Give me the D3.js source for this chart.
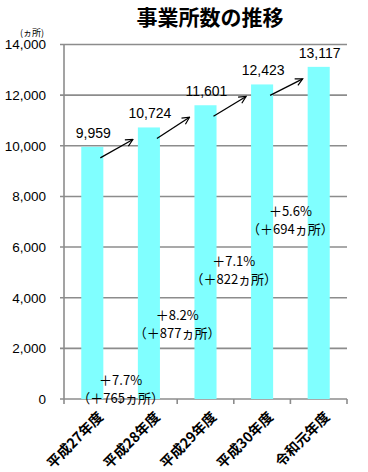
<!DOCTYPE html>
<html>
<head>
<meta charset="utf-8">
<script src="https://cdn.jsdelivr.net/npm/d3@7"></script>
<style>
  body { margin: 0; background: #fff; }
  text { font-family: "Noto Sans CJK JP", "Noto Sans", sans-serif; fill: #000; }
  .num { font-family: "Liberation Sans", "Noto Sans", sans-serif; }
</style>
</head>
<body>
<div id="chart"></div>
<script>
// data
var years = ["平成27年度", "平成28年度", "平成29年度", "平成30年度", "令和元年度"];
var counts = [9959, 10724, 11601, 12423, 13117];
var growthPct = ["＋7.7%", "＋8.2%", "＋7.1%", "＋5.6%"];
var growthNum = ["（＋765ヵ所）", "（＋877ヵ所）", "（＋822ヵ所）", "（＋694ヵ所）"];
// vertical level (in data units) where each growth note sits
var growthLevel = [750, 3300, 5450, 7430];
var yTicks = [0, 2000, 4000, 6000, 8000, 10000, 12000, 14000];

var svgWidth = 368;
var svgHeight = 472;
var margin = { top: 44.5, right: 21, bottom: 73, left: 64 };
var width = svgWidth - margin.left - margin.right;
var height = svgHeight - margin.top - margin.bottom;

var svg = d3.select("#chart").append("svg")
  .attr("width", svgWidth)
  .attr("height", svgHeight);

var defs = svg.append("defs");
defs.append("marker")
  .attr("id", "arrow")
  .attr("viewBox", "0 0 10 10")
  .attr("refX", 9)
  .attr("refY", 5)
  .attr("markerWidth", 9)
  .attr("markerHeight", 9)
  .attr("markerUnits", "userSpaceOnUse")
  .attr("orient", "auto")
  .append("path")
  .attr("d", "M1,1 L9,5 L1,9")
  .attr("fill", "none")
  .attr("stroke", "#000")
  .attr("stroke-width", 1.3);

// title
svg.append("text")
  .attr("x", 210)
  .attr("y", 25)
  .attr("text-anchor", "middle")
  .style("font-size", "21px")
  .style("font-weight", "bold")
  .text("事業所数の推移");

svg.append("text")
  .attr("x", 32)
  .attr("y", 36)
  .attr("text-anchor", "middle")
  .style("font-size", "9px")
  .text("(ヵ所)");

var chartGroup = svg.append("g")
  .attr("transform", `translate(${margin.left}, ${margin.top})`);

var xScale = d3.scaleBand()
  .domain(years)
  .range([0, width])
  .paddingInner(0.61)
  .paddingOuter(0.305);

var yScale = d3.scaleLinear()
  .domain([0, 14000])
  .range([height, 0]);

// gridlines
chartGroup.append("g")
  .selectAll("line")
  .data(yTicks)
  .enter()
  .append("line")
  .attr("x1", -4)
  .attr("x2", width)
  .attr("y1", d => yScale(d))
  .attr("y2", d => yScale(d))
  .attr("stroke", "#8c8c8c")
  .attr("stroke-width", 1.6);

// y axis line
chartGroup.append("line")
  .attr("x1", 0).attr("x2", 0)
  .attr("y1", 0).attr("y2", height)
  .attr("stroke", "#8c8c8c")
  .attr("stroke-width", 1.6);

// y labels
chartGroup.append("g")
  .selectAll("text")
  .data(yTicks)
  .enter()
  .append("text")
  .classed("num", true)
  .attr("x", -18)
  .attr("y", d => yScale(d))
  .attr("dy", "0.36em")
  .attr("text-anchor", "end")
  .style("font-size", "13.5px")
  .text(d => d3.format(",")(d));

// x axis tick marks at category boundaries
var step = xScale.step();
chartGroup.append("g")
  .selectAll("line")
  .data(d3.range(years.length + 1))
  .enter()
  .append("line")
  .attr("x1", d => d * step)
  .attr("x2", d => d * step)
  .attr("y1", height)
  .attr("y2", height + 5)
  .attr("stroke", "#8c8c8c")
  .attr("stroke-width", 1.6);

// bars
chartGroup.append("g")
  .selectAll("rect")
  .data(counts)
  .enter()
  .append("rect")
  .attr("x", (d, i) => xScale(years[i]))
  .attr("y", d => yScale(d))
  .attr("width", xScale.bandwidth())
  .attr("height", d => height - yScale(d))
  .attr("fill", "#80ffff");

// value labels
chartGroup.append("g")
  .selectAll("text")
  .data(counts)
  .enter()
  .append("text")
  .attr("x", (d, i) => xScale(years[i]) + xScale.bandwidth() / 2 + 1)
  .attr("y", d => yScale(d) - 9)
  .attr("text-anchor", "middle")
  .classed("num", true)
  .style("font-size", "14px")
  .text(d => d3.format(",")(d));

// arrows between bars
var center = i => xScale(years[i]) + xScale.bandwidth() / 2;
chartGroup.append("g")
  .selectAll("line")
  .data(d3.range(counts.length - 1))
  .enter()
  .append("line")
  .attr("x1", i => center(i) + 8)
  .attr("y1", i => yScale(counts[i]) + 11)
  .attr("x2", i => center(i + 1) - 16)
  .attr("y2", i => yScale(counts[i + 1]) + 12)
  .attr("stroke", "#000")
  .attr("stroke-width", 1.3)
  .attr("marker-end", "url(#arrow)");

// growth notes
var notes = chartGroup.append("g")
  .selectAll("g")
  .data(growthLevel)
  .enter()
  .append("g")
  .attr("transform", (d, i) => `translate(${(center(i) + center(i + 1)) / 2}, ${yScale(d)})`);

notes.append("text")
  .attr("text-anchor", "middle")
  .attr("dy", "0.36em")
  .style("font-size", "13px")
  .text((d, i) => growthPct[i]);

notes.append("text")
  .attr("text-anchor", "middle")
  .attr("y", 18)
  .attr("dy", "0.36em")
  .style("font-size", "13px")
  .text((d, i) => growthNum[i]);

// x labels
chartGroup.append("g")
  .selectAll("text")
  .data(years)
  .enter()
  .append("text")
  .attr("transform", d => `translate(${xScale(d) + xScale.bandwidth() / 2 + 5}, ${height + 12}) rotate(-45)`)
  .attr("text-anchor", "end")
  .attr("dy", "0.7em")
  .style("font-size", "14px")
  .style("font-weight", "bold")
  .text(d => d);
</script>
</body>
</html>
